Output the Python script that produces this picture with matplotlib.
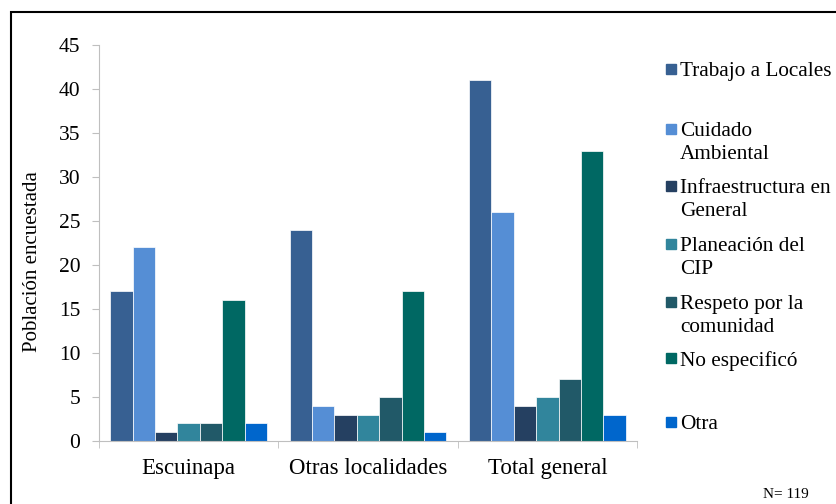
import matplotlib.pyplot as plt
import matplotlib.patches as mpatches
import numpy as np

plt.rcParams['font.family'] = ['Liberation Serif', 'DejaVu Serif']

categorias = ['Escuinapa', 'Otras localidades', 'Total general']
series = ['Trabajo a Locales', 'Cuidado\nAmbiental', 'Infraestructura en\nGeneral',
          'Planeación del\nCIP', 'Respeto por la\ncomunidad', 'No especificó', 'Otra']
valores = [
    [17, 24, 41],
    [22, 4, 26],
    [1, 3, 4],
    [2, 3, 5],
    [2, 5, 7],
    [16, 17, 33],
    [2, 1, 3],
]
colores = ['#376092', '#558ED5', '#254061', '#31859C', '#215968', '#006863', '#0066CC']
yticks = [0, 5, 10, 15, 20, 25, 30, 35, 40, 45]

fig = plt.figure(figsize=(8.36, 5.04), dpi=100)
ax = fig.add_axes([99/836, 1 - 441/504, 538/836, 396/504])

x = np.arange(len(categorias))
w = 0.125
n = len(series)
for i in range(n):
    ax.bar(x + (i - (n - 1) / 2) * w, valores[i], width=w, color=colores[i],
           edgecolor='white', linewidth=0.5)

ax.set_xlim(-0.5, len(categorias) - 0.5)
ax.set_ylim(0, 45)
ax.set_yticks(yticks)
ax.set_yticklabels([str(v) for v in yticks], fontsize=15.5)
ax.set_xticks(x)
ax.set_xticklabels(categorias, fontsize=16.5)
ax.tick_params(axis='x', length=0, pad=12)
ax.set_xticks(np.arange(len(categorias) + 1) - 0.5, minor=True)
ax.tick_params(axis='x', which='minor', length=5, color='#BFBFBF')
ax.tick_params(axis='y', length=5, color='#BFBFBF', pad=8.5)
for s in ['top', 'right']:
    ax.spines[s].set_visible(False)
for s in ['left', 'bottom']:
    ax.spines[s].set_color('#BFBFBF')
ax.set_ylabel('Población encuestada', fontsize=15)
ax.yaxis.set_label_coords(-0.106, 0.452)

# leyenda a mano, como la de Excel
ley_y = [69, 129, 186, 244, 302, 358, 422]
for i in range(n):
    yy = 1 - ley_y[i] / 504
    fig.patches.append(mpatches.Rectangle((666/836, yy - 5/504), 10/836, 10/504,
                                          color=colores[i], transform=fig.transFigure))
    fig.text(680/836, yy + 7/504, series[i], fontsize=15.3, va='top', ha='left',
             linespacing=1.3)

fig.text(786/836, 1 - 494/504, 'N= 119', fontsize=11, ha='center', va='center')

fig.patches.append(mpatches.Rectangle((11/836, -0.1), 2, 1.1 - 12/504, fill=False,
                                      edgecolor='black', linewidth=1.5,
                                      transform=fig.transFigure))

fig.savefig('out.png', dpi=100)
